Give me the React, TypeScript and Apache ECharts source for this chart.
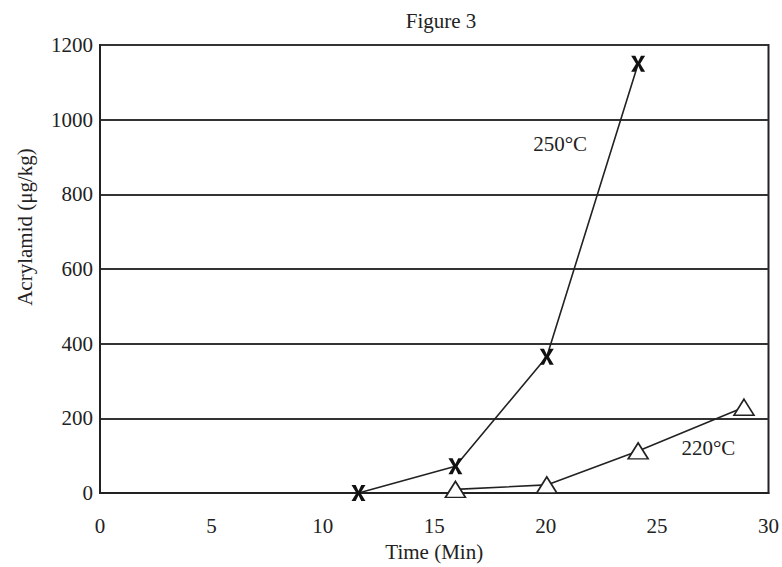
import React, { useEffect, useRef } from "react";
import * as echarts from "echarts";

const title = "Figure 3";
const xName = "Time (Min)";
const yName = "Acrylamid (μg/kg)";
const series250Name = "250°C";
const series220Name = "220°C";
const time250 = [11.6, 15.95, 20.05, 24.15];
const value250 = [0, 72, 365, 1150];
const time220 = [15.95, 20.05, 24.15, 28.9];
const value220 = [10, 22, 113, 230];
const label250At = [20.65, 936];
const label220At = [27.3, 121];

const xPath = "path://M0,0 L6,0 L10,8 L14,0 L20,0 L13,11 L20,22 L14,22 L10,14 L6,22 L0,22 L7,11 Z";

export default function App() {
  const ref = useRef<HTMLDivElement>(null);
  useEffect(() => {
    if (!ref.current) return;
    const chart = echarts.init(ref.current, null, { renderer: "svg" });
    const font = "'Liberation Serif', 'Times New Roman', serif";
    const d250 = time250.map((t, i) => [t, value250[i]]);
    const d220 = time220.map((t, i) => [t, value220[i]]);
    const fs = 21;
    chart.setOption({
      animation: false,
      backgroundColor: "#fff",
      textStyle: { fontFamily: font },
      title: {
        text: title,
        left: 436,
        textAlign: "center",
        top: 5,
        textStyle: { fontFamily: font, fontSize: fs, fontWeight: "normal", color: "#222" },
      },
      graphic: [
        {
          type: "text",
          x: 25,
          y: 227,
          rotation: Math.PI / 2,
          style: {
            text: yName,
            fontFamily: font,
            fontSize: fs,
            fill: "#222",
            textAlign: "center",
            textVerticalAlign: "middle",
          },
        },
      ],
      grid: {
        left: 100,
        right: 13,
        top: 45,
        bottom: 72,
        show: true,
        borderColor: "#222",
        borderWidth: 2,
        backgroundColor: "transparent",
      },
      xAxis: {
        type: "value",
        min: 0,
        max: 30,
        interval: 5,
        name: xName,
        nameLocation: "middle",
        nameGap: 47,
        nameTextStyle: { fontFamily: font, fontSize: fs, color: "#222" },
        axisLine: { show: true, lineStyle: { color: "#222", width: 2 } },
        axisTick: { show: false },
        splitLine: { show: false },
        axisLabel: { fontFamily: font, fontSize: fs, color: "#222", margin: 22 },
      },
      yAxis: {
        type: "value",
        min: 0,
        max: 1200,
        interval: 200,
        axisLine: { show: true, lineStyle: { color: "#222", width: 2 } },
        axisTick: { show: false },
        splitLine: { show: true, lineStyle: { color: "#333", width: 2 } },
        axisLabel: {
          fontFamily: font,
          fontSize: fs,
          color: "#222",
          margin: 7,
          formatter: (v: number) => String(v),
        },
      },
      series: [
        {
          name: series250Name,
          type: "line",
          data: d250,
          symbol: xPath,
          symbolSize: [14, 16],
          showAllSymbol: true,
          lineStyle: { color: "#222", width: 1.6 },
          itemStyle: { color: "#111", borderWidth: 0 },
          markPoint: {
            symbol: "circle",
            symbolSize: 0,
            data: [
              {
                coord: label250At,
                label: {
                  show: true,
                  formatter: series250Name,
                  fontFamily: font,
                  fontSize: fs,
                  color: "#222",
                },
              },
            ],
          },
          z: 3,
        },
        {
          name: series220Name,
          type: "line",
          data: d220,
          symbol: "triangle",
          symbolSize: [20, 16],
          symbolKeepAspect: false,
          lineStyle: { color: "#222", width: 1.6 },
          itemStyle: { color: "#fff", borderColor: "#222", borderWidth: 1.6 },
          markPoint: {
            symbol: "circle",
            symbolSize: 0,
            data: [
              {
                coord: label220At,
                label: {
                  show: true,
                  formatter: series220Name,
                  fontFamily: font,
                  fontSize: fs,
                  color: "#222",
                },
              },
            ],
          },
          z: 3,
        },
      ],
    });
    return () => chart.dispose();
  }, []);
  return <div ref={ref} style={{ width: 782, height: 567, position: "absolute", left: 0, top: 0 }} />;
}
